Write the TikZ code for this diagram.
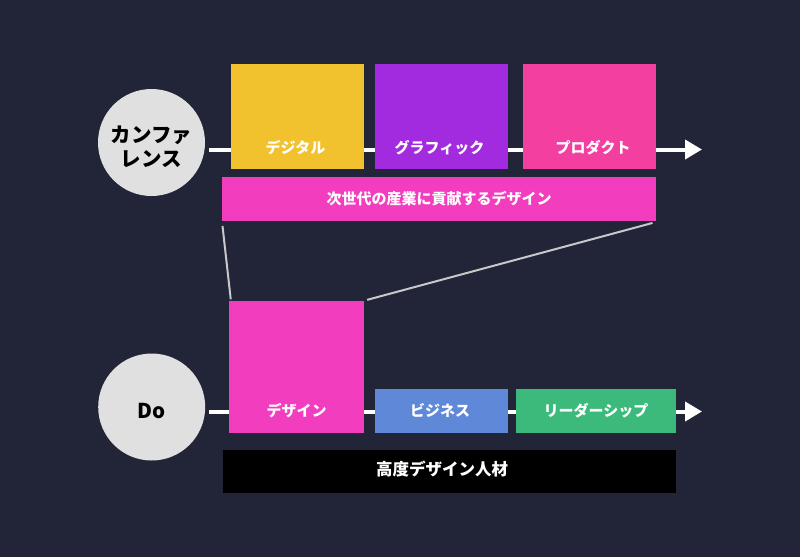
\documentclass[tikz,border=0pt]{standalone}
\usepackage{fontspec}
\setmainfont{Noto Sans CJK JP}
\usetikzlibrary{arrows.meta,calc}
\definecolor{bgc}{HTML}{222538}
\definecolor{cyel}{HTML}{F2C12E}
\definecolor{cpur}{HTML}{A22BE0}
\definecolor{cpro}{HTML}{F33F9F}
\definecolor{cmag}{HTML}{F23DBF}
\definecolor{cblu}{HTML}{5F89D8}
\definecolor{cgrn}{HTML}{3CBA7B}
\definecolor{ccir}{HTML}{E0E0E0}
\definecolor{clin}{HTML}{C8C8C8}
\begin{document}
\begin{tikzpicture}[x=1pt,y=-1pt,
  box/.style={rectangle,inner sep=0pt,minimum width=#1},
  lbl/.style={text=white,font=\bfseries\fontsize{15}{18}\selectfont,inner sep=0pt},
  circ/.style={circle,fill=ccir,minimum size=107pt,inner sep=0pt},
  ctext/.style={align=center,font=\bfseries\fontsize{20.5}{24}\selectfont,text=black,inner sep=0pt},
  track/.style={white,line width=4pt,-{Triangle[length=17pt,width=19pt]}},
  link/.style={clin,line width=2pt}]
\fill[bgc] (0,0) rectangle (800,557);
\useasboundingbox (0,0) rectangle (800,557);
% top row
\node[circ] (conf) at (151.5,142.5) {};
\node[ctext] (tconf) at (151.5,147) {カンファ\\レンス};
\coordinate (tend) at (702,149.5);
\draw[track] (conf.east) ++(4,7) -- (tend);
\node[box=133pt,minimum height=105pt,fill=cyel] (dig) at (297.3,116.8) {};
\node[box=133pt,minimum height=105pt,fill=cpur] (gra) at (441.5,116.8) {};
\node[box=133pt,minimum height=105pt,fill=cpro] (pro) at (589.6,116.8) {};
\node[lbl] (tdig) at (295.5,147.5) {デジタル};
\node[lbl] (tgra) at (439.5,147.5) {グラフィック};
\node[lbl] (tpro) at (593,147.5) {プロダクト};
\node[box=434pt,minimum height=43.5pt,fill=cmag] (bar1) at (439,199) {};
\node[lbl] (tbar1) at (439,199) {次世代の産業に貢献するデザイン};
% bottom row
\node[circ] (do) at (151.7,407) {};
\node[ctext] (tdo) at (151.7,410.5) {Do};
\coordinate (bend) at (702,411.5);
\draw[track] (do.east) ++(4,4.5) -- (bend);
\node[box=134.5pt,minimum height=132.3pt,fill=cmag] (des) at (296.7,367.2) {};
\node[box=132.7pt,minimum height=43.4pt,fill=cblu] (biz) at (441.4,411) {};
\node[box=160.3pt,minimum height=43.4pt,fill=cgrn] (lead) at (595.9,411) {};
\node[lbl] (tdes) at (296.5,410.5) {デザイン};
\node[lbl] (tbiz) at (440,410.5) {ビジネス};
\node[lbl] (tlead) at (596,410.5) {リーダーシップ};
\node[box=453pt,minimum height=42.7pt,fill=black] (bar2) at (449.7,471.3) {};
\node[lbl,font=\bfseries\fontsize{16.5}{18}\selectfont] (tbar2) at (442,469) {高度デザイン人材};
% links
\draw[link] ($(bar1.south west)+(0.7,5)$) -- ($(des.north west)+(1.5,-1.5)$);
\draw[link] ($(bar1.south east)+(-3.7,2)$) -- ($(des.north east)+(3,-1)$);
\end{tikzpicture}
\end{document}
